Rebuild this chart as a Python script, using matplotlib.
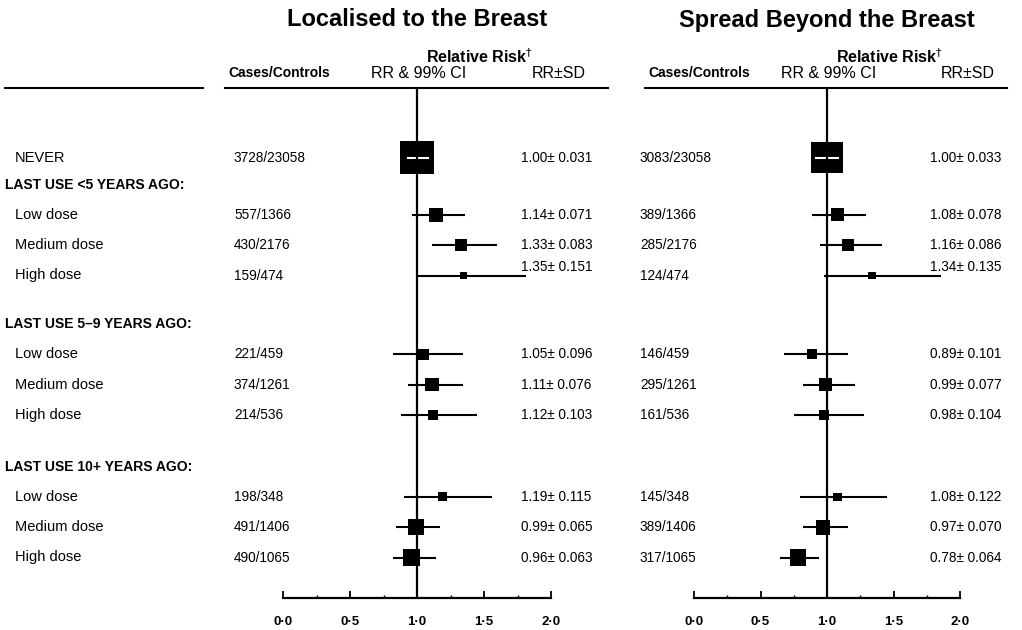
import matplotlib
matplotlib.use("Agg")
import matplotlib.pyplot as plt
import matplotlib.transforms as mtransforms
from matplotlib.lines import Line2D
import numpy as np

plt.rcParams['font.family'] = ['Liberation Sans', 'DejaVu Sans']

# ---- data ----
groups = ["LAST USE <5 YEARS AGO:", "LAST USE 5\u20139 YEARS AGO:", "LAST USE 10+ YEARS AGO:"]
doses = ["Low dose", "Medium dose", "High dose"]

loc_cases = ["3728/23058", "557/1366", "430/2176", "159/474", "221/459",
             "374/1261", "214/536", "198/348", "491/1406", "490/1065"]
loc_rr = [1.00, 1.14, 1.33, 1.35, 1.05, 1.11, 1.12, 1.19, 0.99, 0.96]
loc_sd = [0.031, 0.071, 0.083, 0.151, 0.096, 0.076, 0.103, 0.115, 0.065, 0.063]
loc_lo = [0.93, 0.96, 1.11, 1.00, 0.82, 0.93, 0.88, 0.90, 0.84, 0.82]
loc_hi = [1.08, 1.36, 1.60, 1.81, 1.34, 1.34, 1.45, 1.56, 1.17, 1.14]

spr_cases = ["3083/23058", "389/1366", "285/2176", "124/474", "146/459",
             "295/1261", "161/536", "145/348", "389/1406", "317/1065"]
spr_rr = [1.00, 1.08, 1.16, 1.34, 0.89, 0.99, 0.98, 1.08, 0.97, 0.78]
spr_sd = [0.033, 0.078, 0.086, 0.135, 0.101, 0.077, 0.104, 0.122, 0.070, 0.064]
spr_lo = [0.92, 0.89, 0.95, 0.98, 0.68, 0.82, 0.75, 0.80, 0.82, 0.65]
spr_hi = [1.08, 1.29, 1.41, 1.86, 1.16, 1.21, 1.28, 1.45, 1.16, 0.94]

tick_vals = [0.0, 0.5, 1.0, 1.5, 2.0]
tick_labels = ["0\u00b70", "0\u00b75", "1\u00b70", "1\u00b75", "2\u00b70"]
minor_vals = [0.25, 0.75, 1.25, 1.75]

# ---- layout (pixels) ----
W, H = 1022, 630
header_y = [0.9, 5.55, 10.3]
row_y = [0.0] + [h + 1.0 + 1.01 * i for h in header_y for i in range(3)]
raised = [False, False, False, True, False, False, False, False, False, False]

fig = plt.figure(figsize=(W / 100, H / 100), dpi=100)


def hline(x0, x1, y):
    fig.add_artist(Line2D([x0 / W, x1 / W], [1 - y / H, 1 - y / H], color='black', lw=1.5))


def panel(x0, x1, title, cases, rr, sd, lo, hi, cases_x, rrtxt_x, line_x):
    ax = fig.add_axes([x0 / W, (H - 598) / H, (x1 - x0) / W, (598 - 88) / H])
    ax.set_xlim(0, 2)
    ax.set_ylim(14.67, -2.33)
    for s in ['left', 'top', 'right']:
        ax.spines[s].set_visible(False)
    ax.spines['bottom'].set_linewidth(1.6)
    ax.set_yticks([])
    ax.set_xticks(tick_vals)
    ax.set_xticklabels(tick_labels, fontweight='bold', fontsize=9.5)
    ax.set_xticks(minor_vals, minor=True)
    ax.tick_params(axis='x', which='major', direction='in', length=5, width=1.3, pad=13)
    ax.tick_params(axis='x', which='minor', direction='in', length=2, width=1)

    ax.hlines(row_y, lo, hi, color='black', lw=1.5, zorder=2)
    side = 0.74 / np.array(sd)  # box side in points, inverse to SD
    ax.scatter(rr, row_y, marker='s', s=side ** 2, color='black', lw=0, zorder=3)
    # CI drawn white where it falls inside its box
    ppu = (x1 - x0) / 2 * 0.72
    for y, r, s_, l, h in zip(row_y, rr, side, lo, hi):
        if (h - r) * ppu < s_ / 2 and (r - l) * ppu < s_ / 2:
            ax.plot([l, h], [y, y], color='white', lw=1.5, zorder=4)
    ax.axvline(1.0, color='black', lw=1.6, zorder=5)

    tr = mtransforms.blended_transform_factory(fig.transFigure, ax.transData)
    for y, c, r, s_, up in zip(row_y, cases, rr, sd, raised):
        ax.text(cases_x / W, y, c, transform=tr, ha='left', va='center', fontsize=9.8)
        ax.text(rrtxt_x / W, y - (0.3 if up else 0), f"{r:.2f}\u00b1 {s_:.3f}",
                transform=tr, ha='left', va='center', fontsize=9.8)

    vx = (x0 + x1) / 2
    fig.text(vx / W, 1 - 20 / H, title, ha='center', va='center',
             fontsize=17, fontweight='bold')
    fig.text((vx + 63) / W, 1 - 57 / H, r"Relative Risk$^{\dagger}$", ha='center',
             va='center', fontsize=11.5, fontweight='bold')
    fig.text((line_x[0] + 3) / W, 1 - 73 / H, "Cases/Controls", ha='left',
             va='center', fontsize=10, fontweight='bold')
    fig.text((vx + 2) / W, 1 - 73 / H, "RR & 99% CI", ha='center', va='center', fontsize=11.5)
    fig.text((rrtxt_x + 38) / W, 1 - 73 / H, "RR\u00b1SD", ha='center', va='center', fontsize=11.5)
    hline(line_x[0], line_x[1], 88)
    return ax


ax_l = panel(283, 551, "Localised to the Breast", loc_cases, loc_rr, loc_sd,
             loc_lo, loc_hi, 234, 521, (225, 608))
ax_r = panel(694, 960, "Spread Beyond the Breast", spr_cases, spr_rr, spr_sd,
             spr_lo, spr_hi, 640, 930, (645, 1007))

# row labels
tr = mtransforms.blended_transform_factory(fig.transFigure, ax_l.transData)
ax_l.text(15 / W, row_y[0], "NEVER", transform=tr, ha='left', va='center', fontsize=10.5)
for g, h in enumerate(header_y):
    ax_l.text(5 / W, h, groups[g], transform=tr, ha='left', va='center',
              fontsize=10, fontweight='bold')
    for i, d in enumerate(doses):
        ax_l.text(15 / W, row_y[1 + 3 * g + i], d, transform=tr, ha='left',
                  va='center', fontsize=10.5)
hline(5, 203, 88)

fig.savefig("out.png", dpi=100)
